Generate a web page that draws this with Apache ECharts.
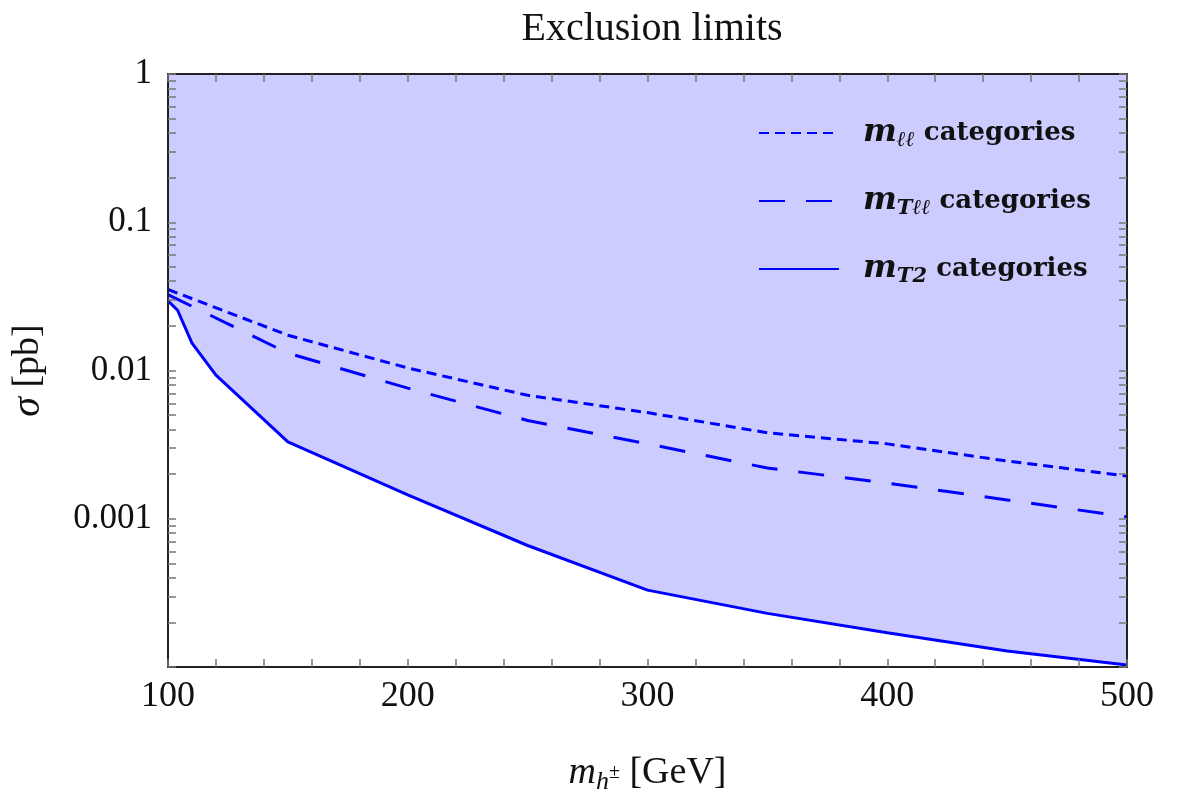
<!DOCTYPE html>
<html><head><meta charset="utf-8">
<script src="https://cdn.jsdelivr.net/npm/echarts@6/dist/echarts.min.js"></script>
<style>html,body{margin:0;padding:0;background:#fff}#c{width:1200px;height:800px}</style>
</head><body><div id="c"></div>
<script>
const chartTitle = 'Exclusion limits';
const seriesNames = ['mll', 'mTll', 'mT2'];
const mllMass = [100, 150, 200, 250, 300, 350, 400, 450, 500];
const mllLimit = [0.0352, 0.0173, 0.0104, 0.0068, 0.0052, 0.0038, 0.0032, 0.00245, 0.00194];
const mtllMass = [100, 150, 200, 250, 300, 350, 400, 450, 500];
const mtllLimit = [0.0325, 0.0131, 0.0076, 0.0046, 0.0032, 0.0022, 0.00174, 0.00134, 0.00103];
const mt2Mass = [100, 104, 110, 120, 150, 200, 250, 300, 350, 400, 450, 500];
const mt2Limit = [0.0295, 0.0255, 0.0153, 0.0093, 0.0033, 0.00145, 0.00066, 0.00033, 0.00023, 0.00017, 0.000128, 0.000103];
const xTickLabels = [100, 200, 300, 400, 500];
const yTickLabels = ['1', '0.1', '0.01', '0.001'];
const yMinorTickLog = [];
for (let d = -4; d < 0; d++) { for (let k = 1; k < 10; k++) { yMinorTickLog.push(d + Math.log10(k)); } }
yMinorTickLog.push(0);

const SERIF = '"Liberation Serif", "DejaVu Serif", serif';
const WIDE = '"DejaVu Serif", "Liberation Serif", serif';
const pairs = (xs, ys) => xs.map((x, i) => [x, ys[i]]);
const legendText = {
  mll: '{m|m}{s|ℓℓ}{c| categories}',
  mTll: '{m|m}{s|Tℓℓ}{c| categories}',
  mT2: '{m|m}{s|T2}{c| categories}'
};
const blue = '#0000ff';
const tickStyle = { show: true, inside: true, length: 8, lineStyle: { color: '#777', width: 1.5 } };
const axisLineStyle = { show: true, onZero: false, lineStyle: { color: '#222', width: 2 } };
const minorTickStyle = { show: true, splitNumber: 5, length: 8, lineStyle: { color: '#777', width: 1.5 } };

const chart = echarts.init(document.getElementById('c'), null, { renderer: 'canvas' });
chart.setOption({
  animation: false,
  backgroundColor: '#fff',
  title: {
    text: chartTitle, left: 647, top: 4, textAlign: 'center',
    textStyle: { fontFamily: SERIF, fontWeight: 'normal', fontSize: 40, color: '#111' }
  },
  grid: { left: 166, right: 73, top: 74, bottom: 133, containLabel: false },
  legend: {
    data: seriesNames, orient: 'vertical', left: 753, top: 112,
    itemWidth: 80, itemHeight: 14, itemGap: 34, selectedMode: false,
    itemStyle: { opacity: 0 },
    formatter: n => legendText[n],
    textStyle: {
      padding: [0, 0, 0, 19],
      rich: {
        m: { fontFamily: WIDE, fontStyle: 'italic', fontWeight: 'bold', fontSize: 32, lineHeight: 36, color: '#111' },
        s: { fontFamily: WIDE, fontStyle: 'italic', fontWeight: 'bold', fontSize: 21, lineHeight: 20, verticalAlign: 'bottom', color: '#111' },
        c: { fontFamily: WIDE, fontWeight: 'bold', fontSize: 26, lineHeight: 36, color: '#111' }
      }
    }
  },
  xAxis: [{
    type: 'value', min: 100, max: 500, interval: 100, position: 'bottom', z: 10,
    axisLine: axisLineStyle, axisTick: tickStyle, minorTick: minorTickStyle,
    splitLine: { show: false },
    axisLabel: { margin: 12, fontFamily: SERIF, fontSize: 36, color: '#111',
      formatter: v => xTickLabels.indexOf(v) >= 0 ? String(v) : '' },
    name: '{i|m}{s|h}{p|±} [GeV]', nameLocation: 'middle', nameGap: 84,
    nameTextStyle: { fontFamily: SERIF, fontSize: 38, color: '#111',
      rich: {
        i: { fontFamily: SERIF, fontStyle: 'italic', fontSize: 38, lineHeight: 44, color: '#111' },
        s: { fontFamily: SERIF, fontStyle: 'italic', fontSize: 26, lineHeight: 22, verticalAlign: 'bottom', color: '#111' },
        p: { fontFamily: SERIF, fontSize: 20, lineHeight: 34, verticalAlign: 'middle', color: '#111' }
      } }
  }, {
    type: 'value', min: 100, max: 500, interval: 100, position: 'top', z: 10,
    axisLine: axisLineStyle, axisTick: tickStyle, minorTick: minorTickStyle,
    splitLine: { show: false }, axisLabel: { show: false }
  }],
  yAxis: [{
    type: 'log', logBase: 10, min: 0.0001, max: 1, position: 'left', z: 10,
    axisLine: axisLineStyle, axisTick: { show: false }, splitLine: { show: false },
    axisLabel: { margin: 16, fontFamily: SERIF, fontSize: 35, color: '#111',
      formatter: v => { const e = Math.round(Math.log10(v)); return e > -4 ? yTickLabels[-e] : ''; } },
    name: '{i|σ} [pb]', nameLocation: 'middle', nameGap: 120, nameRotate: 90,
    nameTextStyle: { fontFamily: SERIF, fontSize: 38, color: '#111',
      rich: { i: { fontFamily: SERIF, fontStyle: 'italic', fontSize: 40, color: '#111' } } }
  }, {
    type: 'value', min: -4, max: 0, position: 'left', offset: 0, z: 10,
    axisLine: { show: false, onZero: false }, splitLine: { show: false }, axisLabel: { show: false },
    axisTick: Object.assign({}, tickStyle, { customValues: yMinorTickLog })
  }, {
    type: 'value', min: -4, max: 0, position: 'right', offset: 0, z: 10,
    axisLine: axisLineStyle, splitLine: { show: false }, axisLabel: { show: false },
    axisTick: Object.assign({}, tickStyle, { customValues: yMinorTickLog })
  }],
  series: [{
    name: 'fill', type: 'line', data: pairs(mt2Mass, mt2Limit), symbol: 'none', silent: true,
    lineStyle: { width: 0 }, areaStyle: { origin: 'end', color: '#ccccff', opacity: 1 }, z: 1
  }, {
    name: 'mll', type: 'line', data: pairs(mllMass, mllLimit), symbol: 'none',
    lineStyle: { color: blue, width: 3, type: [10, 6] }, itemStyle: { color: blue }, z: 3
  }, {
    name: 'mTll', type: 'line', data: pairs(mtllMass, mtllLimit), symbol: 'none',
    lineStyle: { color: blue, width: 3, type: [26, 21] }, itemStyle: { color: blue }, z: 3
  }, {
    name: 'mT2', type: 'line', data: pairs(mt2Mass, mt2Limit), symbol: 'none',
    lineStyle: { color: blue, width: 3, type: 'solid' }, itemStyle: { color: blue }, z: 3
  }]
});
</script></body></html>
